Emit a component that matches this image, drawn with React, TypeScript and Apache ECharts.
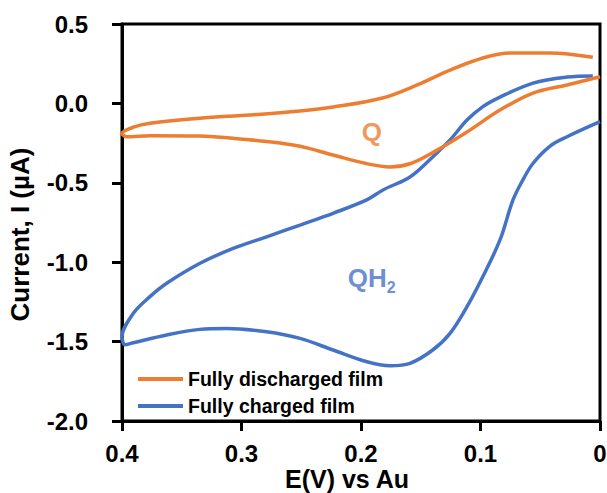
import React, { useEffect, useRef } from "react";
import * as echarts from "echarts";

// Fully discharged film (orange): E (V vs Au) and current (µA), traced along the loop
const dischargedE = [
  0.0, 0.0276, 0.056, 0.0837, 0.1113, 0.14, 0.159, 0.1757, 0.195, 0.2234, 0.251, 0.279, 0.307, 0.335, 0.3766, 0.396, 0.4,
  0.3905, 0.3766, 0.335, 0.293, 0.251, 0.2234, 0.182, 0.153, 0.1255, 0.098, 0.075, 0.042, 0.006,
];
const dischargedI = [
  0.168, 0.116, 0.065, -0.042, -0.18, -0.31, -0.38, -0.4, -0.38, -0.325, -0.27, -0.24, -0.22, -0.205, -0.203, -0.21, -0.19,
  -0.15, -0.125, -0.093, -0.073, -0.048, -0.023, 0.034, 0.116, 0.21, 0.286, 0.317, 0.317, 0.29,
];

// Fully charged film (blue)
const chargedE = [
  0.0, 0.0276, 0.042, 0.056, 0.0644, 0.0728, 0.0837, 0.098, 0.1113, 0.1255, 0.14, 0.159, 0.1757, 0.195, 0.2234, 0.251,
  0.279, 0.3124, 0.335, 0.3626, 0.3905, 0.3975, 0.4,
  0.3905, 0.3766, 0.3626, 0.3347, 0.307, 0.279, 0.251, 0.2234, 0.1952, 0.1816, 0.159, 0.14, 0.1255, 0.1113, 0.098,
  0.0837, 0.056, 0.0276, 0.006,
];
const chargedI = [
  -0.115, -0.21, -0.27, -0.377, -0.48, -0.608, -0.86, -1.09, -1.28, -1.448, -1.553, -1.637, -1.652, -1.627, -1.553, -1.48,
  -1.438, -1.417, -1.423, -1.458, -1.507, -1.52, -1.47,
  -1.322, -1.217, -1.133, -1.007, -0.913, -0.84, -0.766, -0.692, -0.608, -0.545, -0.463, -0.337, -0.23, -0.105, -0.02,
  0.04, 0.128, 0.166, 0.173,
];

const seriesNames = ["Fully discharged film", "Fully charged film"];

// Annotation labels placed in data coordinates
const annotationNames = ["Q", "QH2"];
const annotationE = [0.191, 0.191];
const annotationI = [-0.18, -1.1];

const xTicks = { min: 0, max: 0.4, interval: 0.1 };
const yTicks = { min: -2, max: 0.5, interval: 0.5 };

const ORANGE = "#ED7D31";
const BLUE = "#4472C4";
const FONT = "'Liberation Sans', Arial, Helvetica, sans-serif";

function zip(xs: number[], ys: number[]) {
  return xs.map((x, i) => [x, ys[i]]);
}

export default function App() {
  const ref = useRef<HTMLDivElement>(null);

  useEffect(() => {
    if (!ref.current) return;
    const chart = echarts.init(ref.current, null, { renderer: "svg" });
    const axisLine = { show: true, onZero: false, lineStyle: { color: "#000", width: 3 } };
    const axisTick = { show: true, inside: false, length: 10, lineStyle: { color: "#000", width: 3 } };

    chart.setOption({
      animation: false,
      backgroundColor: "#fff",
      textStyle: { fontFamily: FONT },
      grid: {
        left: 122,
        right: 7,
        top: 24,
        bottom: 72,
        show: true,
        borderColor: "#000",
        borderWidth: 3,
        backgroundColor: "transparent",
        containLabel: false,
        outerBoundsMode: "none",
      },
      legend: {
        data: seriesNames.map((n) => ({ name: n, icon: "rect" })),
        orient: "vertical",
        left: 138,
        top: 369,
        padding: 0,
        itemWidth: 45,
        itemHeight: 4,
        itemGap: 7,
        textStyle: { fontFamily: FONT, fontWeight: "bold", fontSize: 19.5, color: "#000", lineHeight: 20 },
      },
      xAxis: {
        type: "value",
        inverse: true,
        min: xTicks.min,
        max: xTicks.max,
        interval: xTicks.interval,
        name: "E(V) vs Au",
        nameLocation: "middle",
        nameGap: 45,
        nameMoveOverlap: false,
        nameTextStyle: {
          fontFamily: FONT,
          fontWeight: "bold",
          fontSize: 25,
          lineHeight: 26,
          color: "#000",
          padding: [0, 28, 0, 0],
        },
        axisLine,
        axisTick,
        splitLine: { show: false },
        axisLabel: {
          margin: 20,
          fontFamily: FONT,
          fontWeight: "bold",
          fontSize: 24,
          color: "#000",
          formatter: (v: number) => (v === 0 ? "0" : v.toFixed(1)),
        },
      },
      yAxis: {
        type: "value",
        min: yTicks.min,
        max: yTicks.max,
        interval: yTicks.interval,
        name: "Current, I (µA)",
        nameLocation: "middle",
        nameGap: 89,
        nameMoveOverlap: false,
        nameTextStyle: { fontFamily: FONT, fontWeight: "bold", fontSize: 26, color: "#000", padding: [0, 24, 0, 0] },
        axisLine,
        axisTick,
        splitLine: { show: false },
        axisLabel: {
          margin: 34,
          fontFamily: FONT,
          fontWeight: "bold",
          fontSize: 24,
          color: "#000",
          formatter: (v: number) => v.toFixed(1),
        },
      },
      series: [
        {
          name: seriesNames[0],
          type: "line",
          data: zip(dischargedE, dischargedI),
          symbol: "none",
          smooth: 0.35,
          color: ORANGE,
          lineStyle: { color: ORANGE, width: 3.5 },
          z: 3,
        },
        {
          name: seriesNames[1],
          type: "line",
          data: zip(chargedE, chargedI),
          symbol: "none",
          smooth: 0.35,
          color: BLUE,
          lineStyle: { color: BLUE, width: 3.5 },
          z: 2,
        },
        {
          name: "annotations",
          type: "scatter",
          symbolSize: 0,
          silent: true,
          data: zip(annotationE, annotationI).map((d, i) => ({ value: d, name: annotationNames[i] })),
          label: {
            show: true,
            position: "inside",
            formatter: (p: any) => (p.name === "Q" ? "{q|Q}" : "{h|QH}{s|2}"),
            rich: {
              q: { fontFamily: FONT, fontWeight: "bold", fontSize: 26, color: ORANGE },
              h: { fontFamily: FONT, fontWeight: "bold", fontSize: 26, color: BLUE, lineHeight: 30 },
              s: { fontFamily: FONT, fontWeight: "bold", fontSize: 16, color: BLUE, lineHeight: 30, padding: [18, 0, 0, 0] },
            },
          },
        },
      ],
    });
    return () => chart.dispose();
  }, []);

  return (
    <div
      ref={ref}
      style={{ position: "absolute", left: 0, top: 0, width: 607, height: 493, background: "#fff" }}
    />
  );
}
